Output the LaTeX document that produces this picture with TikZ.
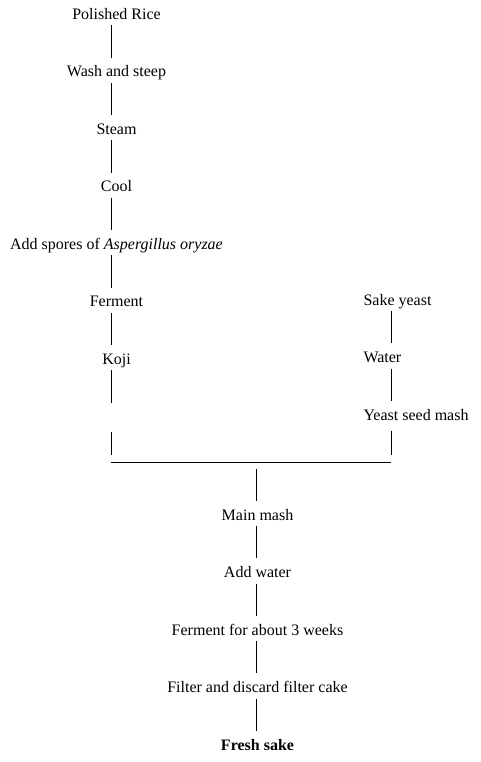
\documentclass[tikz,border=0pt]{standalone}
\usepackage{fontspec}
\setmainfont{Liberation Serif}
\usetikzlibrary{positioning}

\begin{document}
\begin{tikzpicture}[
        x=1pt, y=1pt, line width=1pt,
        node distance=41.5pt,
        every node/.style={inner sep=0pt, text height=11pt, text depth=4pt, font=\fontsize{16}{19}\selectfont},
        link/.style={shorten <=1.6pt, shorten >=7.6pt},
        drop/.style={shorten <=6pt, shorten >=7.5pt}
    ]
    \useasboundingbox (0,0) rectangle (481,-762);

    % Koji branch
    \node[anchor=base] (L1) at (116.5,-19.3) {Polished Rice};
    \node (L2) [below=of L1] {Wash and steep};
    \node (L3) [below=of L2] {Steam};
    \node (L4) [below=of L3] {Cool};
    \node (L5) [below=of L4] {Add spores of \textit{Aspergillus oryzae}};
    \node (L6) [below=of L5] {Ferment};
    \node (L7) [below=of L6] {Koji};
    \node (L8) [below=of L7] {};

    % Yeast branch
    \node[anchor=base west] (R1) at (363,-305) {Sake yeast};
    \node (R2) [below=of R1.south west, anchor=north west] {Water};
    \node (R3) [below=of R2.south west, anchor=north west] {Yeast seed mash};

    % Main branch
    \node[anchor=base] (M1) at (257.5,-520) {Main mash};
    \node (M2) [below=of M1] {Add water};
    \node (M3) [below=of M2] {Ferment for about 3 weeks};
    \node (M4) [below=of M3] {Filter and discard filter cake};
    \node (M5) [below=of M4] {\textbf{Fresh sake}};

    % Connections
    \foreach \i/\j in {1/2,2/3,3/4,4/5,5/6,6/7,7/8}
        \draw[link] ([xshift=-5.5pt]L\i.south) -- ([xshift=-5.5pt]L\j.north);

    \foreach \i/\j in {1/2,2/3}
        \draw[link] ([xshift=28pt]R\i.south west) -- ([xshift=28pt]R\j.north west);

    \foreach \i/\j in {1/2,2/3,3/4,4/5}
        \draw[link] ([xshift=-1.5pt]M\i.south) -- ([xshift=-1.5pt]M\j.north);

    % Junction
    \coordinate (JL) at ([shift={(-5.5pt,-36.6pt)}]L8.south);
    \coordinate (RX) at ([xshift=28pt]R3.south west);
    \coordinate (MX) at ([xshift=-1.5pt]M1.north);
    \coordinate (JR) at (JL -| RX);
    \coordinate (JM) at (JL -| MX);

    \draw[drop] ([xshift=-5.5pt]L8.south) -- (JL);
    \draw[drop] (RX) -- (JR);
    \draw (JL) -- (JR);
    \draw[drop] (JM) -- (MX);

\end{tikzpicture}
\end{document}
